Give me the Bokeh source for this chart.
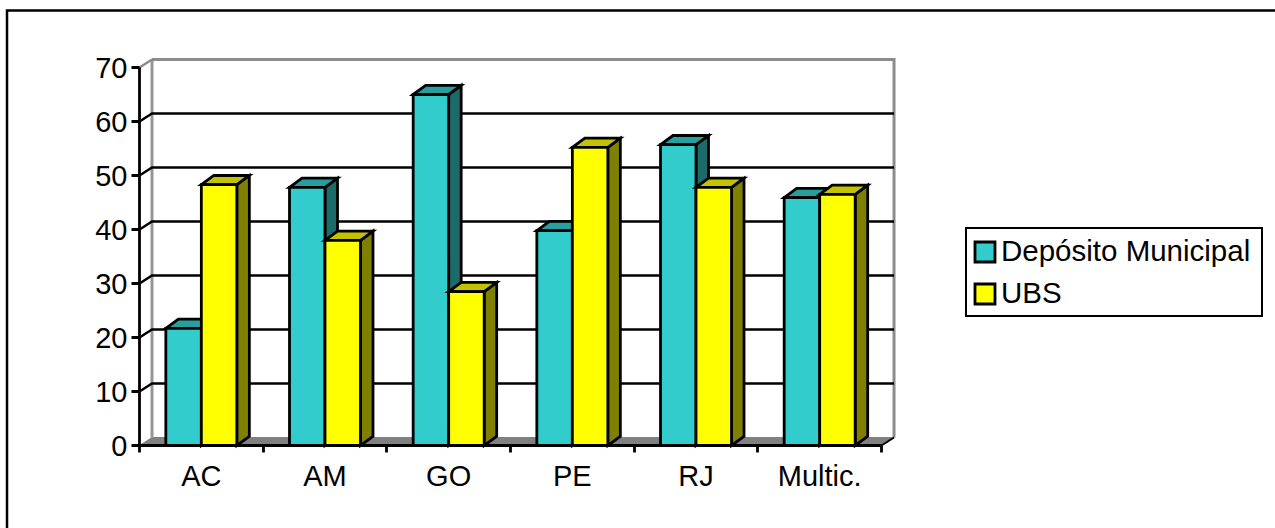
from bokeh.embed import file_html
from bokeh.models import FixedTicker, Legend, LegendItem, LinearAxis, Range1d
from bokeh.plotting import figure
from bokeh.resources import INLINE

categories = ["AC", "AM", "GO", "PE", "RJ", "Multic."]
deposito = [21.7, 47.8, 65.0, 39.8, 55.7, 45.9]
ubs = [48.3, 38.0, 28.5, 55.2, 47.8, 46.5]
y_ticks = [0, 10, 20, 30, 40, 50, 60, 70]

WIDTH, HEIGHT = 1275, 528
X0, Y0 = 139.0, 445.0       # screen position of the origin
PX_X, PX_Y = 123.67, 5.4    # pixels per category / per percentage unit
DX, DY = 12.5 / PX_X, 8.0 / PX_Y   # wall depth in data units
BAR_DY = 9.2 / PX_Y                # bars are drawn slightly deeper than the walls
BAR = 35.5 / PX_X
FONT = "Liberation Sans"
SIZE = "29px"


def sx(px):
    return (px - X0) / PX_X


def sy(py):
    return (Y0 - py) / PX_Y


p = figure(
    width=WIDTH, height=HEIGHT, output_backend="svg", toolbar_location=None,
    x_range=Range1d(sx(0), sx(WIDTH)), y_range=Range1d(sy(HEIGHT), sy(0)),
    x_axis_type=None, y_axis_type=None, min_border=0,
    outline_line_color=None, background_fill_color="white",
)
p.grid.visible = False

n = len(categories)

# chart frame: only the top and left edges are present
p.line([sx(6.5), sx(6.5), sx(WIDTH)], [sy(HEIGHT), sy(10), sy(10)],
       line_color="black", line_width=2.5, line_join="miter")

# floor
p.patch([0, DX, n + DX, n], [0, DY, DY, 0], fill_color="#808080", line_color="#808080", line_width=1)

# back and side walls
p.line([DX, DX], [0 + DY, 70 + DY], line_color="#969696", line_width=3)
p.line([DX, n + DX, n + DX], [70 + DY, 70 + DY, DY], line_color="#8c8c8c", line_width=3, line_join="miter")
p.line([0, DX], [70, 70 + DY], line_color="#8c8c8c", line_width=2.5)

# gridlines running over the side wall and along the back wall
ticks = [t for t in y_ticks if 0 < t < 70]
p.multi_line([[0, DX, n + DX] for _ in ticks], [[t, t + DY, t + DY] for t in ticks],
             line_color="black", line_width=2.5, line_join="miter")
p.line([n, n + DX], [0, DY], line_color="black", line_width=2)


def draw_bar(left, val, front, top, side):
    right = left + BAR
    p.patch([right, right + DX, right + DX, right], [0, BAR_DY, val + BAR_DY, val],
            fill_color=side, line_color="black", line_width=2.8, line_join="miter")
    p.patch([left, left + DX, right + DX, right], [val, val + BAR_DY, val + BAR_DY, val],
            fill_color=top, line_color="black", line_width=2.8, line_join="miter")
    return p.quad(left=[left], right=[right], bottom=[0], top=[val],
                  fill_color=front, line_color="black", line_width=2.8, line_join="miter")


r_dep = r_ubs = None
for i in range(n):
    r_dep = draw_bar(i + 0.5 - BAR, deposito[i], "#33CCCC", "#299E9E", "#1C6B6B")
    r_ubs = draw_bar(i + 0.5, ubs[i], "#FFFF00", "#C2C200", "#808000")

# axes sit on the origin, inside the full-page frame
y_axis = LinearAxis(fixed_location=0, ticker=FixedTicker(ticks=y_ticks), bounds=(0, 70))
y_axis.axis_line_color = "black"
y_axis.axis_line_width = 2.8
y_axis.major_tick_line_color = "black"
y_axis.major_tick_line_width = 2.8
y_axis.major_tick_in = 0
y_axis.major_tick_out = 8
y_axis.minor_tick_line_color = None
y_axis.major_label_standoff = 4
y_axis.major_label_text_font = FONT
y_axis.major_label_text_font_size = SIZE
y_axis.major_label_text_color = "black"
p.add_layout(y_axis, "left")

x_axis = LinearAxis(
    fixed_location=0,
    ticker=FixedTicker(ticks=[i + 0.5 for i in range(n)], minor_ticks=list(range(n + 1))),
    bounds=(0, n),
)
x_axis.major_label_overrides = {i + 0.5: c for i, c in enumerate(categories)}
x_axis.axis_line_color = "black"
x_axis.axis_line_width = 2.8
x_axis.major_tick_line_color = None
x_axis.major_tick_in = 0
x_axis.major_tick_out = 8
x_axis.minor_tick_line_color = "black"
x_axis.minor_tick_line_width = 2.8
x_axis.minor_tick_in = 0
x_axis.minor_tick_out = 7
x_axis.major_label_standoff = 6
x_axis.major_label_text_font = FONT
x_axis.major_label_text_font_size = SIZE
x_axis.major_label_text_color = "black"
p.add_layout(x_axis, "below")

legend = Legend(
    items=[LegendItem(label="Depósito Municipal", renderers=[r_dep]),
           LegendItem(label="UBS", renderers=[r_ubs])],
    location=(965, 211), orientation="vertical",
    border_line_color="black", border_line_width=2.8, border_line_alpha=1,
    background_fill_color="white", background_fill_alpha=1,
    label_text_font=FONT, label_text_font_size="29.5px", label_text_color="black",
    glyph_width=25, glyph_height=25, label_standoff=4, label_width=255,
    padding=5, spacing=8, margin=0, label_height=25,
)
p.add_layout(legend, "center")

open("out.html", "w").write(file_html(p, INLINE))
